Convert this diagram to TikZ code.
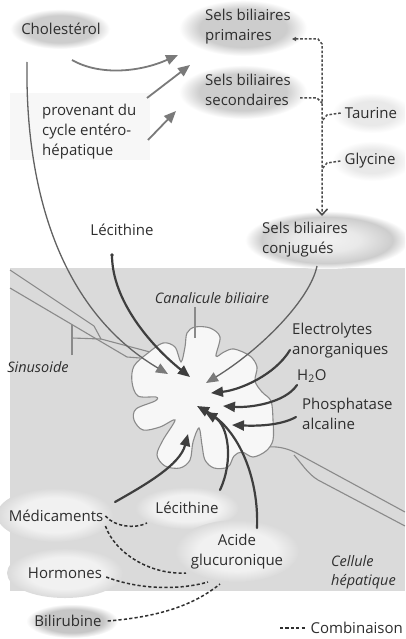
\documentclass[tikz,border=0pt]{standalone}
\usepackage{fontspec}
\setmainfont{Open Sans}
\usetikzlibrary{arrows.meta}

% colours
\definecolor{ink}{HTML}{2E2E2E}
\definecolor{cellbg}{HTML}{DADADA}
\definecolor{ovalA}{HTML}{CDCDCD}
\definecolor{ovalB}{HTML}{E9E9E9}
\definecolor{ovalC}{HTML}{F1F1F1}
\definecolor{ovalD}{HTML}{C6C6C6}
\definecolor{darkarrow}{HTML}{3E3E3E}
\definecolor{greyarrow}{HTML}{7A7A7A}
\definecolor{membrane}{HTML}{8A8A8A}

% soft-edged ovals: the path's bounding box maps onto the central 50bp square
\pgfdeclareradialshading{ovalOnWhite}{\pgfpointorigin}{color(0bp)=(ovalA); color(17bp)=(ovalA); color(25bp)=(white); color(50bp)=(white)}
\pgfdeclareradialshading{ovalFaint}{\pgfpointorigin}{color(0bp)=(ovalB); color(15bp)=(ovalB); color(25bp)=(white); color(50bp)=(white)}
\pgfdeclareradialshading{ovalRing}{\pgfpointorigin}{color(0bp)=(ovalC); color(10bp)=(ovalB); color(20bp)=(ovalA); color(25bp)=(white); color(50bp)=(white)}
\pgfdeclareradialshading{ovalOnGrey}{\pgfpointorigin}{color(0bp)=(ovalC); color(16bp)=(ovalC); color(25bp)=(cellbg); color(50bp)=(cellbg)}
\pgfdeclareradialshading{ovalDark}{\pgfpointorigin}{color(0bp)=(ovalD); color(17bp)=(ovalD); color(25bp)=(white); color(50bp)=(white)}

\begin{document}
\begin{tikzpicture}[x=1pt,y=-1pt,
  lbl/.style={font=\fontsize{15}{20}\selectfont, text=ink, inner sep=0pt},
  ital/.style={font=\fontsize{14.5}{19.5}\selectfont\itshape, text=ink, inner sep=0pt},
  darkflow/.style={draw=darkarrow, line width=2.2pt, line cap=round, -{Triangle[length=12pt,width=10pt]}},
  greyflow/.style={draw=greyarrow, line width=1.8pt, -{Triangle[length=12pt,width=10pt]}},
  thinflow/.style={draw=greyarrow!80!black, line width=1.3pt, -{Triangle[length=12pt,width=10pt,fill=greyarrow,color=greyarrow]}},
  combi/.style={draw=ink, line width=1.5pt, dash pattern=on 3.2pt off 2.2pt},
  conjline/.style={draw=ink!85, line width=1.5pt, dash pattern=on 2.6pt off 1.8pt},
  wall/.style={draw=membrane, line width=1.1pt}]

\useasboundingbox (0,0) rectangle (405,639);
\clip (0,0) rectangle (405,639);
\fill[white] (0,0) rectangle (405,639);

% hepatocyte region and the small panel behind the enterohepatic note
\fill[cellbg] (10,268) rectangle (405,591);
\fill[ovalB!35!white] (10,93) rectangle (150,160);

% ovals behind the labels
\shade[shading=ovalOnWhite] (60,29) ellipse [x radius=50pt, y radius=20pt];
\shade[shading=ovalOnWhite] (243,28) ellipse [x radius=64pt, y radius=28pt];
\shade[shading=ovalOnWhite] (243,92) ellipse [x radius=64pt, y radius=27pt];
\shade[shading=ovalFaint] (372,113) ellipse [x radius=40pt, y radius=20pt];
\shade[shading=ovalFaint] (372,161) ellipse [x radius=40pt, y radius=20pt];
\shade[shading=ovalRing] (327,240) ellipse [x radius=82pt, y radius=29pt];
\shade[shading=ovalOnGrey] (55,515) ellipse [x radius=58pt, y radius=27pt];
\shade[shading=ovalOnGrey] (187,508) ellipse [x radius=52pt, y radius=21pt];
\shade[shading=ovalOnGrey] (237,551) ellipse [x radius=62pt, y radius=31pt];
\shade[shading=ovalOnGrey] (65,573) ellipse [x radius=58pt, y radius=25pt];
\shade[shading=ovalDark] (72,621) ellipse [x radius=46pt, y radius=17pt];

% sinusoid on the upper left
\draw[wall] (10,270) -- (94,326) -- (101,339) -- (150,352);
\draw[wall] (10,288) -- (127,357) -- (140,358);
\draw[wall] (72,355) -- (72,325);
\draw[wall] (72,338) -- (101,339);

% sinusoid on the lower right
\draw[wall] (251,451) .. controls (268,444) and (285,446) .. (300,455) -- (405,512);
\draw[wall] (294,455) .. controls (302,464) and (308,474) .. (318,480) -- (405,526);

% bile canaliculus
\draw[wall, fill=ovalC!60!white] plot[smooth cycle, tension=0.55] coordinates {
  (185,347) (187,333) (195,327) (210,328) (220,337) (216,356)
  (224,352) (234,349) (250,356) (257,367) (255,381)
  (262,392) (271,401) (273,420) (273,440) (266,451) (253,457) (242,452)
  (234,456) (228,467) (214,468) (205,460) (202,445) (199,428)
  (193,442) (190,460) (180,468) (165,466) (157,455) (163,440) (175,420)
  (160,427) (143,430) (134,420) (136,409) (155,401) (156,397)
  (138,396) (132,382) (134,366) (148,353) (163,343) (175,347) (181,362)};

% labels
\node[lbl] (chol) at (61,29) {Cholestérol};
\node[lbl, align=left, anchor=west] (sbp) at (205,27) {Sels biliaires\\primaires};
\node[lbl, align=left, anchor=west] (sbs) at (205,90) {Sels biliaires\\secondaires};
\node[lbl, align=left, anchor=west] (prov) at (42,132) {provenant du\\cycle entéro-\\hépatique};
\node[lbl] (taur) at (371,113) {Taurine};
\node[lbl] (glyc) at (370,161) {Glycine};
\node[lbl, align=left, anchor=west] (sbc) at (262,240) {Sels biliaires\\conjugués};
\node[lbl] (lec1) at (122,230) {Lécithine};
\node[ital] (canal) at (212,298) {Canalicule biliaire};
\node[ital] (sinus) at (38,367) {Sinusoide};
\node[lbl, align=left, anchor=west] (elec) at (292,341) {Electrolytes\\anorganiques};
\node[lbl, anchor=west] (h2o) at (297,376) {H\textsubscript{2}O};
\node[lbl, align=left, anchor=west] (phos) at (302,414) {Phosphatase\\alcaline};
\node[lbl] (medic) at (56,516) {Médicaments};
\node[lbl] (lec2) at (187,508) {Lécithine};
\node[lbl, align=center] (acide) at (237,552) {Acide\\glucuronique};
\node[lbl] (horm) at (65,573) {Hormones};
\node[lbl] (bili) at (68,621) {Bilirubine};
\node[ital, align=left, anchor=west] (cell) at (331,572) {Cellule\\hépatique};
\node[lbl, anchor=east] (comb) at (403,628) {Combinaison};

% pointer of the canaliculus label
\coordinate (canalTip) at (195,338);
\draw[wall] (canal.south -| canalTip) ++(0,3) -- (canalTip);

% anchor points of the flows
\coordinate (sChol) at (72,60);
\coordinate (tPrim) at (178,55);
\coordinate (sProvA) at (147,98);
\coordinate (tProvA) at (190,65);
\coordinate (sProvB) at (148,140);
\coordinate (tProvB) at (176,111);
\coordinate (sLong) at (27,62);
\coordinate (tLong) at (168,374);
\coordinate (sLec) at (112,255);
\coordinate (tLec) at (190,377);
\coordinate (sConj) at (317,266);
\coordinate (tConj) at (206,383);
\coordinate (sElec) at (290,350);
\coordinate (tElec) at (211,393);
\coordinate (sWater) at (297,385);
\coordinate (tWater) at (223,406);
\coordinate (sPhos) at (296,417);
\coordinate (tPhos) at (232,425);
\coordinate (sMed) at (115,502);
\coordinate (tMed) at (188,434);
\coordinate (sLecB) at (220,490);
\coordinate (tLecB) at (205,412);
\coordinate (sAcid) at (257,528);
\coordinate (tAcid) at (197,406);

% synthesis and recycling (upper part)
\draw[greyflow] (sChol) .. controls (100,76) and (140,72) .. (tPrim);
\draw[greyflow] (sProvA) -- (tProvA);
\draw[greyflow] (sProvB) -- (tProvB);

% conjugation with taurine and glycine
\coordinate (jPrim) at (292,39);
\coordinate (jDown) at (322,216);
\draw[conjline, {Triangle[length=4pt,width=4pt]}-{Straight Barb[length=6pt,width=11pt]}]
  (jPrim) -- (318,39) -- (322,44) -- (jDown);
\draw[conjline] (300,98) -- (317,98) -- (322,103);
\draw[conjline] (taur.west) ++(-4,0) -- (327,115) -- (322,121);
\draw[conjline] (glyc.west) ++(-4,0) -- (327,163) -- (322,169);

% secretion into the canaliculus
\draw[thinflow] (sLong) .. controls (25,190) and (60,310) .. (tLong);
\draw[darkflow] (sLec) .. controls (112,300) and (150,345) .. (tLec);
\fill[darkarrow] (sLec) circle [radius=1.8pt];
\draw[thinflow] (sConj) .. controls (310,300) and (260,350) .. (tConj);
\draw[darkflow] (sElec) .. controls (275,375) and (240,390) .. (tElec);
\draw[darkflow] (sWater) .. controls (285,403) and (250,408) .. (tWater);
\draw[darkflow] (sPhos) .. controls (280,426) and (255,426) .. (tPhos);
\draw[darkflow] (sMed) .. controls (145,485) and (180,465) .. (tMed);
\draw[darkflow] (sLecB) .. controls (234,460) and (228,425) .. (tLecB);
\draw[darkflow] (sAcid) .. controls (259,480) and (240,430) .. (tAcid);

% conjugations (dashed)
\draw[combi] (medic.east) ++(2,0) .. controls (115,527) and (135,529) .. (147,523);
\draw[combi] (medic.south east) ++(2,4) .. controls (115,553) and (150,575) .. (186,573);
\draw[combi] (horm.east) ++(4,4) .. controls (140,590) and (180,590) .. (208,582);
\draw[combi] (bili.east) ++(6,0) .. controls (170,616) and (200,600) .. (220,584);
\coordinate (legA) at (280,628);
\draw[combi] (legA) -- ([xshift=-4pt]comb.west);
\end{tikzpicture}
\end{document}
